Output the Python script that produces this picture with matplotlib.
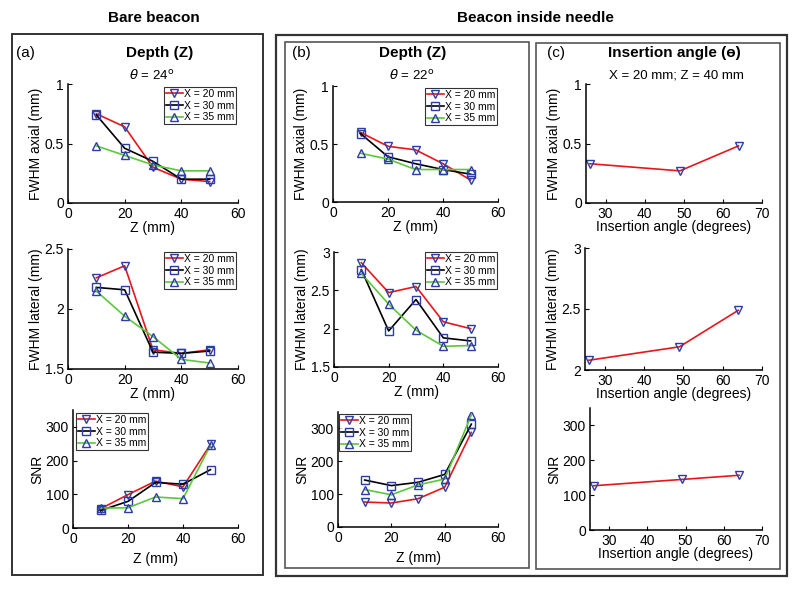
import matplotlib
matplotlib.use("Agg")
import matplotlib.pyplot as plt
from matplotlib.patches import Rectangle
from matplotlib.ticker import FormatStrFormatter

plt.rcParams["font.family"] = ["Liberation Sans", "DejaVu Sans"]

# depth scans
depth_z = [10, 20, 30, 40, 50]
series_labels = ["X = 20 mm", "X = 30 mm", "X = 35 mm"]

# (a) bare beacon, theta = 24
a_axial = [[0.75, 0.64, 0.30, 0.20, 0.18],
           [0.74, 0.46, 0.35, 0.20, 0.20],
           [0.48, 0.40, 0.32, 0.27, 0.27]]
a_lateral = [[2.26, 2.36, 1.66, 1.63, 1.66],
             [2.18, 2.16, 1.64, 1.63, 1.65],
             [2.15, 1.94, 1.77, 1.58, 1.55]]
a_snr = [[57, 99, 139, 122, 248],
         [52, 79, 135, 130, 173],
         [59, 60, 92, 87, 246]]

# (b) beacon inside needle, theta = 22
b_axial = [[0.60, 0.48, 0.45, 0.33, 0.19],
           [0.59, 0.39, 0.33, 0.28, 0.24],
           [0.42, 0.37, 0.28, 0.28, 0.28]]
b_lateral = [[2.86, 2.47, 2.55, 2.09, 2.00],
             [2.77, 1.97, 2.38, 1.88, 1.84],
             [2.72, 2.32, 1.98, 1.77, 1.78]]
b_snr = [[76, 73, 86, 121, 288],
         [143, 126, 136, 160, 313],
         [114, 98, 128, 146, 341]]

# (c) insertion angle, X = 20 mm, Z = 40 mm
angles = [26, 49, 64]
c_axial = [0.33, 0.27, 0.48]
c_lateral = [2.08, 2.19, 2.49]
c_snr = [127, 145, 157]

line_colors = ["#e8161b", "black", "#5cc73c"]
markers = ["v", "s", "^"]
edge_blue = "#2d3da6"

W, H = 800, 589
fig = plt.figure(figsize=(W / 100, H / 100), dpi=100)


def px_axes(x0, x1, ytop, ybot):
    return fig.add_axes([x0 / W, 1 - ybot / H, (x1 - x0) / W, (ybot - ytop) / H])


def px_text(x, y, s, **kw):
    fig.text(x / W, 1 - y / H, s, ha=kw.pop("ha", "center"),
             va=kw.pop("va", "center"), **kw)


def px_rect(x0, y0, x1, y1, lw, color):
    fig.patches.append(Rectangle((x0 / W, 1 - y1 / H), (x1 - x0) / W,
                                 (y1 - y0) / H, transform=fig.transFigure,
                                 fill=False, lw=lw, edgecolor=color))


def style_axes(ax, xlim, ylim, yticks, xticks, xlabel, ylabel, labelpad):
    ax.set_xlim(*xlim)
    ax.set_ylim(*ylim)
    ax.set_xticks(xticks)
    ax.set_yticks(yticks)
    ax.yaxis.set_major_formatter(FormatStrFormatter("%g"))
    for s in ["top", "right"]:
        ax.spines[s].set_visible(False)
    for s in ["left", "bottom"]:
        ax.spines[s].set_linewidth(1.1)
    ax.tick_params(direction="in", length=3, width=0.8, labelsize=10, pad=3)
    ax.set_xlabel(xlabel, fontsize=10, labelpad=labelpad)
    ax.set_ylabel(ylabel, fontsize=10, labelpad=1)


def depth_plot(ax, data, legend_anchor, legend_loc):
    for vals, col, mk, lab in zip(data, line_colors, markers, series_labels):
        ax.plot(depth_z, vals, color=col, lw=1.2, marker=mk, ms=5.5,
                mfc="none", mec=edge_blue, mew=1.0, label=lab)
    leg = ax.legend(loc=legend_loc,
                    bbox_to_anchor=(legend_anchor[0] / W, 1 - legend_anchor[1] / H),
                    bbox_transform=fig.transFigure, fontsize=7.5,
                    frameon=True, fancybox=False, borderpad=0.2,
                    labelspacing=0.15, handlelength=1.6, handletextpad=0.1,
                    borderaxespad=0)
    fr = leg.get_frame()
    fr.set_edgecolor("black")
    fr.set_linewidth(0.8)


def angle_plot(ax, vals):
    ax.plot(angles, vals, color=line_colors[0], lw=1.2, marker="v", ms=5.5,
            mfc="none", mec=edge_blue, mew=1.0)


zt = [0, 20, 40, 60]
at = [30, 40, 50, 60, 70]

# panel (a)
ax = px_axes(68, 238, 84, 203)
depth_plot(ax, a_axial, (236, 87), "upper right")
style_axes(ax, (0, 60), (0, 1), [0, 0.5, 1], zt, "Z (mm)", "FWHM axial (mm)", 0)
ax = px_axes(68, 238, 249, 369)
depth_plot(ax, a_lateral, (236, 252), "upper right")
style_axes(ax, (0, 60), (1.5, 2.5), [1.5, 2, 2.5], zt, "Z (mm)", "FWHM lateral (mm)", 0)
ax = px_axes(73, 238, 410, 528)
depth_plot(ax, a_snr, (76, 413), "upper left")
style_axes(ax, (0, 60), (0, 350), [0, 100, 200, 300], zt, "Z (mm)", "SNR", 4)

# panel (b)
ax = px_axes(333, 498, 86, 202)
depth_plot(ax, b_axial, (497, 88), "upper right")
style_axes(ax, (0, 60), (0, 1), [0, 0.5, 1], zt, "Z (mm)", "FWHM axial (mm)", 0)
ax = px_axes(334, 498, 252, 367)
depth_plot(ax, b_lateral, (497, 252), "upper right")
style_axes(ax, (0, 60), (1.5, 3), [1.5, 2, 2.5, 3], zt, "Z (mm)", "FWHM lateral (mm)", 0)
ax = px_axes(338, 498, 412, 527)
depth_plot(ax, b_snr, (339, 414), "upper left")
style_axes(ax, (0, 60), (0, 350), [0, 100, 200, 300], zt, "Z (mm)", "SNR", 4)

# panel (c)
ax = px_axes(586, 762, 84, 203)
angle_plot(ax, c_axial)
style_axes(ax, (25, 70), (0, 1), [0, 0.5, 1], at, "Insertion angle (degrees)", "FWHM axial (mm)", -1)
ax = px_axes(585, 762, 248, 370)
angle_plot(ax, c_lateral)
style_axes(ax, (25, 70), (2, 3), [2, 2.5, 3], at, "Insertion angle (degrees)", "FWHM lateral (mm)", -1)
ax = px_axes(590, 762, 408, 530)
angle_plot(ax, c_snr)
style_axes(ax, (25, 70), (0, 350), [0, 100, 200, 300], at, "Insertion angle (degrees)", "SNR", -1)

# frames
px_rect(12, 34, 263, 575, 1.4, "#333333")
px_rect(276, 35, 787, 576, 1.6, "#333333")
px_rect(285, 42, 529, 568, 1.2, "#555555")
px_rect(536, 43, 780, 569, 1.2, "#555555")

# headings
px_text(154, 18, "Bare beacon", fontsize=11, fontweight="bold")
px_text(535, 18, "Beacon inside needle", fontsize=11, fontweight="bold")

px_text(16, 53, "(a)", fontsize=11, ha="left")
px_text(160, 53, "Depth (Z)", fontsize=11, fontweight="bold")
px_text(152, 75, r"$\theta$ = 24$^{\mathrm{o}}$", fontsize=9.5)

px_text(292, 53, "(b)", fontsize=11, ha="left")
px_text(413, 53, "Depth (Z)", fontsize=11, fontweight="bold")
px_text(412, 75, r"$\theta$ = 22$^{\mathrm{o}}$", fontsize=9.5)

px_text(547, 53, "(c)", fontsize=11, ha="left")
px_text(674, 53, "Insertion angle (ɵ)", fontsize=11, fontweight="bold")
px_text(676, 75, "X = 20 mm; Z = 40 mm", fontsize=9.5)

fig.savefig("out.png", dpi=100)
